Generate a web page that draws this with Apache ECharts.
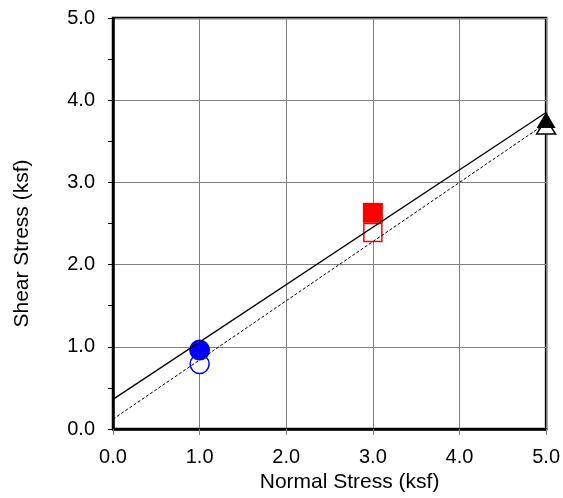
<!DOCTYPE html>
<html>
<head>
<meta charset="utf-8">
<script src="https://cdn.jsdelivr.net/npm/echarts@6/dist/echarts.min.js"></script>
<style>
  html, body { margin: 0; padding: 0; background: #fff; }
  #chart { width: 563px; height: 498px; }
</style>
</head>
<body>
<div id="chart"></div>
<script>
  // test points (normal stress, shear stress) in ksf
  var peakCircle = [[1.0, 0.96]]
  var residCircle = [[1.0, 0.79]]
  var peakSquare = [[3.0, 2.63]]
  var residSquare = [[3.0, 2.39]]
  var peakTriangle = [[5.0, 3.76]]
  var residTriangle = [[5.0, 3.68]]
  // failure envelopes
  var peakLine = [[0, 0.36], [5, 3.85]]
  var residLine = [[0, 0.12], [5, 3.72]]

  var myChart = echarts.init(document.getElementById('chart'))
  var font = 'Liberation Sans, Arial, sans-serif'

  function marker(data, symbol, size, color, filled) {
    return {
      type: 'scatter',
      data: data,
      symbol: symbol,
      symbolSize: size,
      z: filled ? 4 : 3,
      itemStyle: filled
        ? { color: color, opacity: 1 }
        : { color: '#fff', borderColor: color, borderWidth: 1.5, opacity: 1 }
    }
  }

  var option = {
    animation: false,
    grid: {
      left: 113, right: 16, top: 18, bottom: 66,
      show: true,
      borderColor: '#000',
      borderWidth: 2.5
    },
    xAxis: {
      type: 'value',
      min: 0, max: 5, interval: 1,
      name: 'Normal Stress (ksf)',
      nameLocation: 'middle',
      nameGap: 43,
      // title sits right of the plot centre in the original
      nameTextStyle: { fontFamily: font, fontSize: 21, color: '#000', padding: [0, 0, 0, 40] },
      axisLine: { lineStyle: { color: '#000', width: 2.5 } },
      axisTick: { show: true, length: 6, lineStyle: { color: '#808080' } },
      axisLabel: { fontFamily: font, fontSize: 20, color: '#000', margin: 18,
        formatter: function (v) { return v.toFixed(1) } },
      splitLine: { lineStyle: { color: '#808080', width: 1 } }
    },
    yAxis: {
      type: 'value',
      min: 0, max: 5, interval: 1,
      name: 'Shear Stress (ksf)',
      nameLocation: 'middle',
      nameGap: 80,
      nameTextStyle: { fontFamily: font, fontSize: 21, color: '#000', padding: [0, 40, 0, 0] },
      axisLine: { lineStyle: { color: '#000', width: 2.5 } },
      axisTick: { show: true, length: 5, lineStyle: { color: '#000' } },
      minorTick: { show: true, splitNumber: 2, length: 5, lineStyle: { color: '#000' } },
      axisLabel: { fontFamily: font, fontSize: 20, color: '#000', margin: 18,
        formatter: function (v) { return v.toFixed(1) } },
      splitLine: { lineStyle: { color: '#808080', width: 1 } }
    },
    series: [
      marker(residCircle, 'circle', 19, '#0000ff', false),
      marker(residSquare, 'rect', 18, '#ff0000', false),
      marker(residTriangle, 'triangle', [19, 15], '#000', false),
      marker(peakCircle, 'circle', 21, '#0000ff', true),
      marker(peakSquare, 'rect', 20, '#ff0000', true),
      marker(peakTriangle, 'triangle', [19, 16], '#000', true),
      {
        type: 'line', data: peakLine, symbol: 'none', z: 5,
        lineStyle: { color: '#000', width: 1.3 }
      },
      {
        type: 'line', data: residLine, symbol: 'none', z: 5,
        lineStyle: { color: '#000', width: 1, type: [3, 2] }
      }
    ]
  }

  myChart.setOption(option)
</script>
</body>
</html>
